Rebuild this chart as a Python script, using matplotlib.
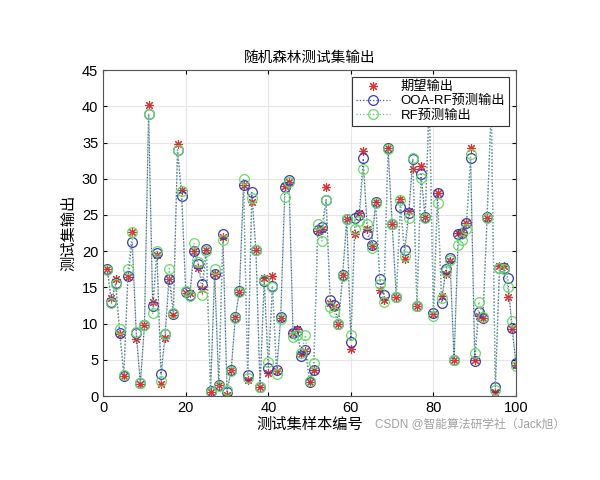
import numpy as np
import matplotlib
matplotlib.use("Agg")
import matplotlib.pyplot as plt

plt.rcParams['font.family'] = ['Liberation Sans', 'Noto Sans CJK SC', 'DejaVu Sans']

# sample index 1..100
sample_idx = list(range(1, 101))

# expected output
expected = [17.5, 13.5, 16.2, 8.6, 2.8, 16.4, 22.7, 7.9, 1.7, 9.8,
            40.2, 13.0, 19.5, 1.6, 8.0, 16.2, 11.2, 34.8, 28.4, 14.2,
            14.2, 20.0, 17.7, 14.8, 20.1, 0.6, 16.9, 1.5, 22.0, 0.2,
            3.6, 10.9, 14.4, 29.1, 2.2, 26.8, 20.2, 1.3, 16.3, 3.2,
            16.5, 3.5, 10.8, 29.0, 29.5, 8.7, 9.2, 5.8, 6.2, 1.9,
            3.6, 22.8, 23.0, 28.9, 12.8, 12.3, 9.9, 16.7, 24.4, 6.5,
            22.3, 25.3, 33.8, 23.1, 20.7, 26.8, 14.6, 13.2, 34.2, 23.8,
            13.7, 27.2, 18.9, 25.5, 31.3, 12.4, 31.8, 24.7, 42.0, 11.3,
            28.0, 13.8, 16.9, 18.6, 5.0, 22.5, 22.6, 23.9, 34.3, 5.0,
            11.1, 10.8, 24.6, 40.5, 0.5, 18.0, 17.9, 13.6, 9.3, 4.3]

# OOA-RF prediction
ooa_rf = [17.5, 13.0, 15.6, 8.7, 2.8, 16.5, 21.3, 8.7, 1.8, 9.8,
          39.0, 12.4, 19.8, 3.0, 8.5, 16.2, 11.3, 34.0, 27.6, 14.4,
          13.9, 20.0, 18.2, 15.5, 20.3, 0.7, 16.8, 1.5, 22.3, 0.6,
          3.6, 10.9, 14.5, 29.1, 2.9, 28.1, 20.1, 1.2, 15.9, 3.8,
          15.2, 3.6, 10.9, 28.8, 29.8, 8.7, 9.0, 5.5, 6.3, 1.9,
          3.6, 22.9, 23.4, 27.1, 13.3, 12.6, 10.0, 16.7, 24.4, 7.5,
          24.6, 25.0, 32.8, 22.4, 20.8, 26.8, 16.2, 13.9, 34.2, 23.8,
          13.7, 26.1, 20.1, 25.3, 32.7, 12.4, 30.6, 24.7, 41.0, 11.5,
          28.0, 12.9, 17.6, 19.0, 5.0, 22.4, 22.5, 23.9, 32.8, 4.8,
          11.6, 10.8, 24.7, 40.0, 1.2, 17.7, 17.7, 16.3, 9.4, 4.6]

# RF prediction
rf = [17.4, 12.8, 15.5, 9.2, 2.9, 17.5, 22.6, 8.8, 1.8, 9.8,
      39.0, 11.4, 20.0, 2.1, 8.5, 17.6, 11.4, 34.0, 28.3, 14.5,
      13.8, 21.1, 18.5, 13.9, 20.0, 0.6, 17.5, 1.4, 21.5, 0.8,
      3.5, 10.8, 14.4, 29.9, 2.5, 27.4, 20.2, 1.3, 16.0, 4.7,
      15.0, 3.0, 10.7, 27.5, 29.6, 8.2, 8.4, 6.0, 8.4, 2.1,
      4.5, 23.7, 21.4, 27.0, 12.3, 11.6, 9.9, 16.6, 24.4, 8.4,
      23.1, 24.1, 31.4, 23.8, 20.5, 26.7, 15.4, 13.0, 34.1, 23.7,
      13.6, 27.0, 19.3, 24.6, 32.8, 12.4, 30.1, 24.6, 40.5, 11.0,
      26.6, 13.5, 17.2, 18.8, 5.0, 20.9, 21.5, 23.1, 33.4, 5.9,
      13.0, 10.9, 24.6, 39.5, 0.8, 17.7, 17.6, 15.1, 10.4, 4.1]

fig = plt.figure(figsize=(6, 4.8), dpi=100)
ax = fig.add_axes([0.172, 0.175, 0.688, 0.679])

# matlab-like asterisk: 8 thin spokes
ax.plot(sample_idx, expected, color='#e03030', marker=(8, 2, 0), markersize=6.5,
        markeredgewidth=0.8, linestyle='none', label='期望输出')
ax.plot(sample_idx, ooa_rf, linestyle=':', color='#4a4aa0', linewidth=0.9,
        marker='o', markersize=7, markerfacecolor='none', markeredgecolor='#3a3ab0',
        markeredgewidth=0.9, label='OOA-RF预测输出')
ax.plot(sample_idx, rf, linestyle=':', color='#70b890', linewidth=0.9,
        marker='o', markersize=7, markerfacecolor='none', markeredgecolor='#66dd66',
        markeredgewidth=0.9, label='RF预测输出')

ax.set_xlim(0, 100)
ax.set_ylim(0, 45)
ax.set_xticks(np.arange(0, 101, 20))
ax.set_yticks(np.arange(0, 46, 5))
ax.grid(True, color='#e6e6e6', linewidth=0.8)
ax.set_axisbelow(True)
ax.tick_params(direction='in', top=True, right=True, labelsize=10.5, length=3)
for s in ax.spines.values():
    s.set_color('#555555')
    s.set_linewidth(0.8)

ax.set_title('随机森林测试集输出', fontsize=10.5, pad=6)
ax.set_xlabel('测试集样本编号', fontsize=11, labelpad=2)
ax.set_ylabel('测试集输出', fontsize=11, labelpad=4)

leg = ax.legend(loc='upper right', fontsize=9.5, fancybox=False, framealpha=1,
                edgecolor='#333333', borderpad=0.3, handlelength=2.6,
                labelspacing=0.15, borderaxespad=0.5)
leg.get_frame().set_linewidth(0.8)

fig.text(0.625, 0.108, 'CSDN @智能算法研学社（Jack旭）', fontsize=8.5, color='#a0a0a0')

fig.savefig('out.png', dpi=100)
